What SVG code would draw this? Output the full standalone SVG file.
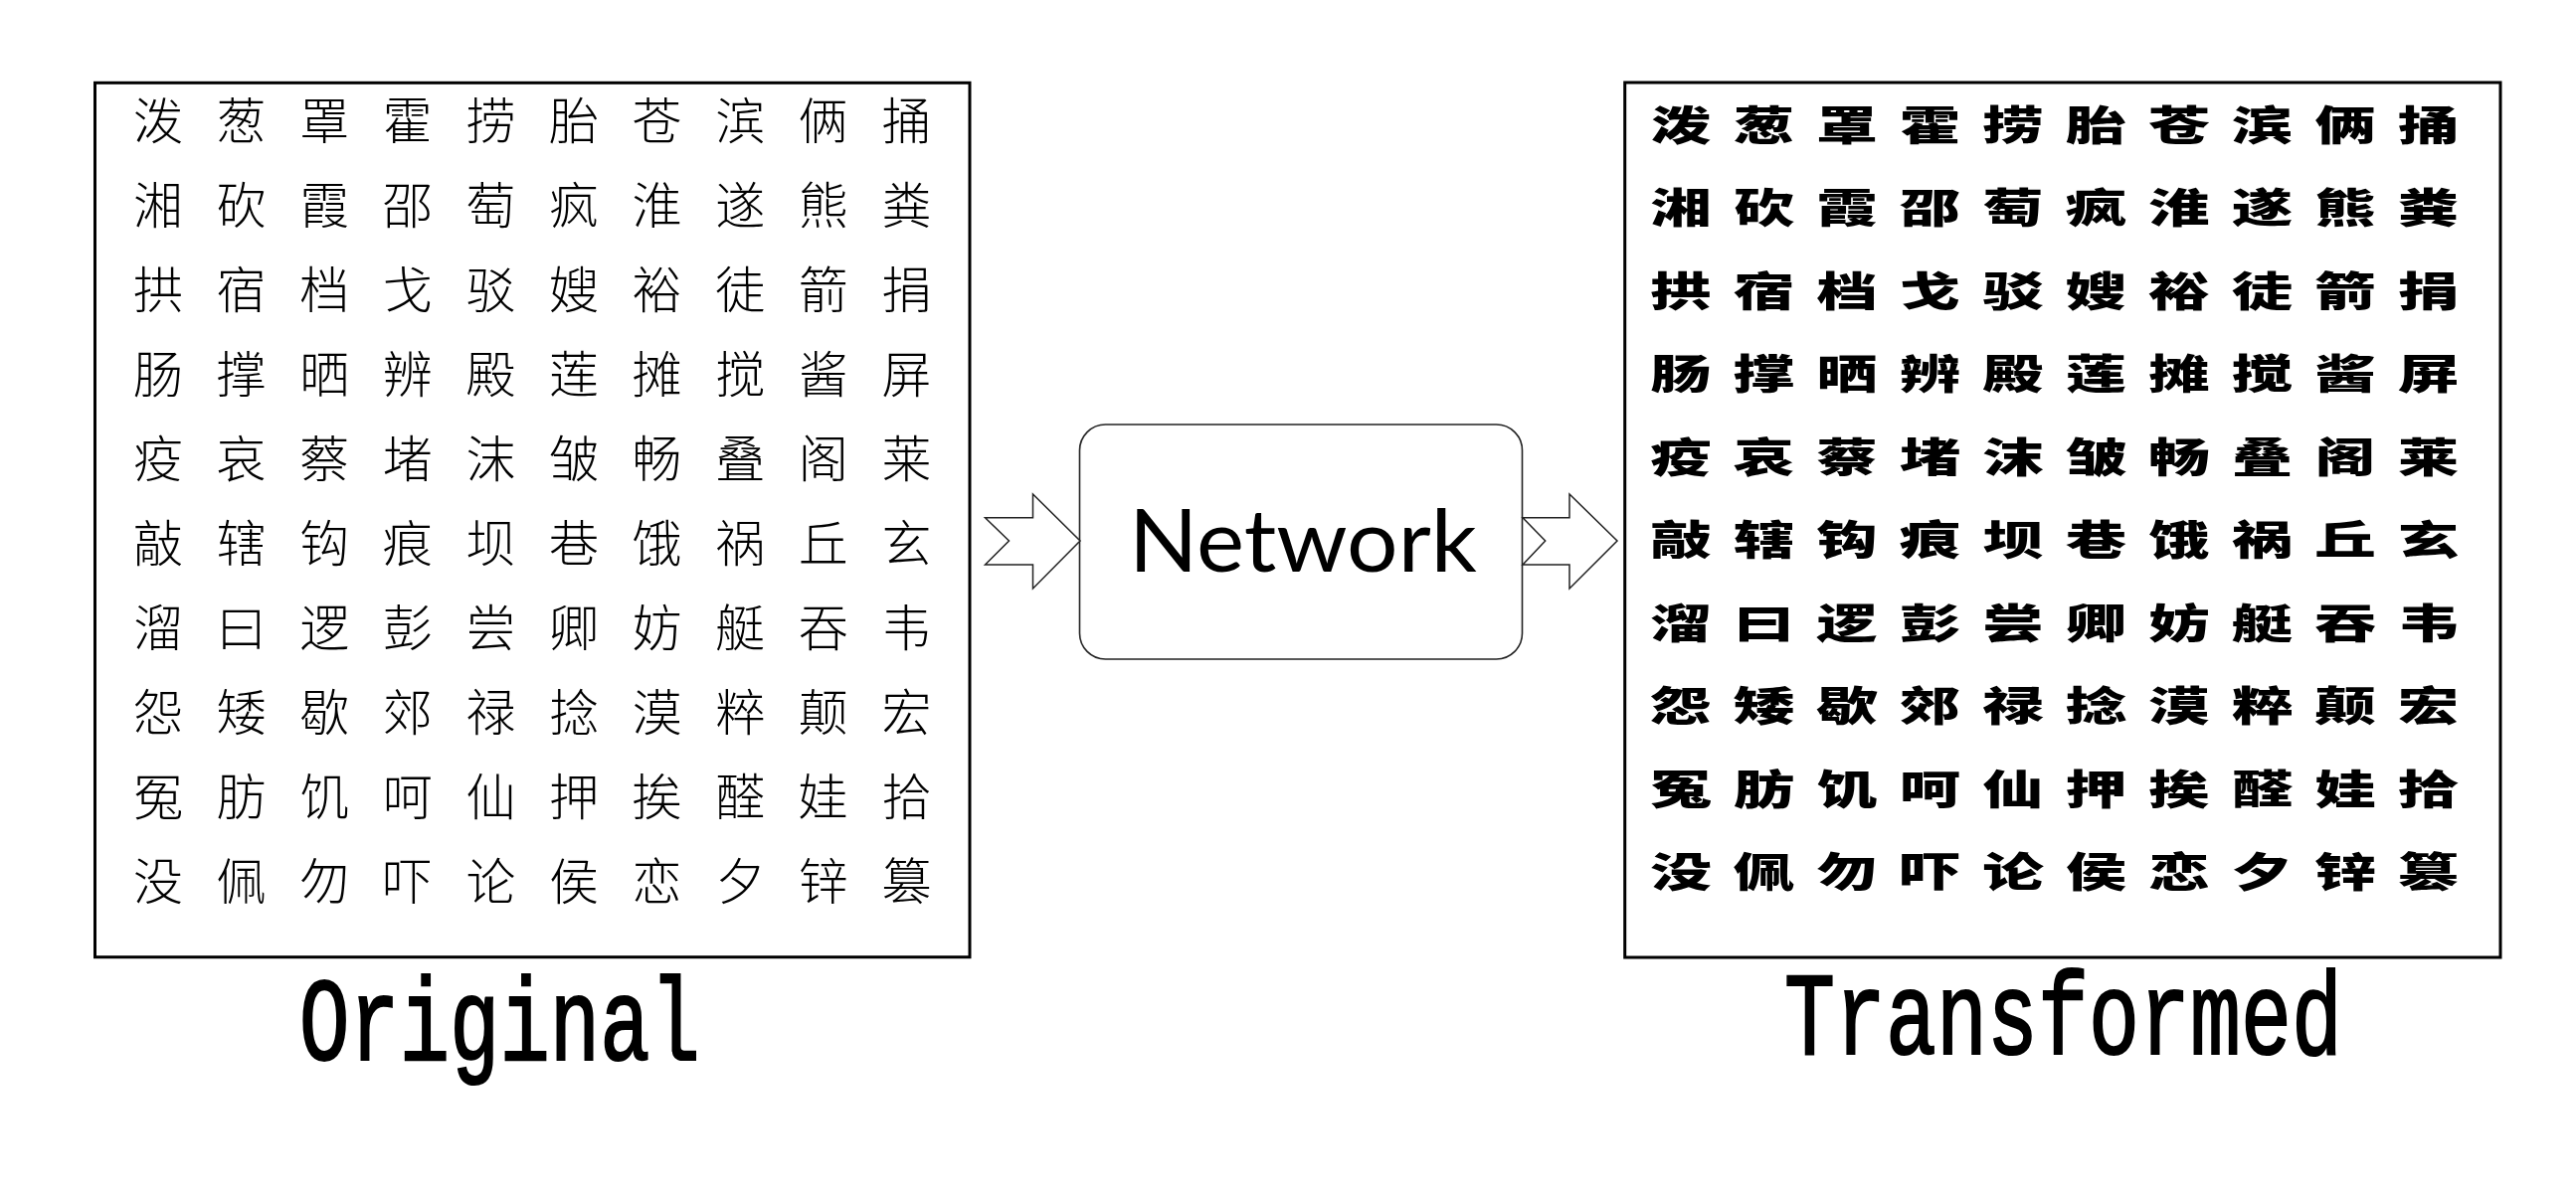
<svg xmlns="http://www.w3.org/2000/svg" width="2590" height="1204" viewBox="0 0 2590 1204">
<style>
.frame{fill:#fff;stroke:#000;stroke-width:3}
.orig{font-family:"Noto Sans CJK SC",sans-serif;font-size:50px;font-weight:300;fill:#000;text-anchor:middle}
.trans{font-family:"Noto Sans CJK SC",sans-serif;font-size:41px;font-weight:900;fill:#000;text-anchor:middle}
.label{font-family:"Liberation Mono",monospace;font-weight:normal;font-size:118px;fill:#000;stroke:#000;stroke-width:2.2}
.net{fill:#fff;stroke:#222;stroke-width:1.6}
.nettext{font-family:Lato,"Open Sans",sans-serif;font-size:87px;fill:#000;text-anchor:middle}
.chev{fill:#fff;stroke:#222;stroke-width:1.5;stroke-linejoin:miter}
</style>
<rect width="2590" height="1204" fill="#fff"/>
<g id="original">
<rect class="frame" x="95.5" y="83.3" width="879.5" height="879.4"/>
<g class="orig">
<text x="159 242.6 326.2 409.8 493.4 577 660.6 744.2 827.8 911.4" y="139.5">泼葱罩霍捞胎苍滨俩捅</text>
<text x="159 242.6 326.2 409.8 493.4 577 660.6 744.2 827.8 911.4" y="224.6">湘砍霞邵萄疯淮遂熊粪</text>
<text x="159 242.6 326.2 409.8 493.4 577 660.6 744.2 827.8 911.4" y="309.7">拱宿档戈驳嫂裕徒箭捐</text>
<text x="159 242.6 326.2 409.8 493.4 577 660.6 744.2 827.8 911.4" y="394.8">肠撑晒辨殿莲摊搅酱屏</text>
<text x="159 242.6 326.2 409.8 493.4 577 660.6 744.2 827.8 911.4" y="479.9">疫哀蔡堵沫皱畅叠阁莱</text>
<text x="159 242.6 326.2 409.8 493.4 577 660.6 744.2 827.8 911.4" y="565">敲辖钩痕坝巷饿祸丘玄</text>
<text x="159 242.6 326.2 409.8 493.4 577 660.6 744.2 827.8 911.4" y="650.1">溜曰逻彭尝卿妨艇吞韦</text>
<text x="159 242.6 326.2 409.8 493.4 577 660.6 744.2 827.8 911.4" y="735.2">怨矮歇郊禄捻漠粹颠宏</text>
<text x="159 242.6 326.2 409.8 493.4 577 660.6 744.2 827.8 911.4" y="820.3">冤肪饥呵仙押挨醛娃拾</text>
<text x="159 242.6 326.2 409.8 493.4 577 660.6 744.2 827.8 911.4" y="905.4">没佩勿吓论侯恋夕锌篡</text>
</g>
<text class="label" x="301" y="1066" textLength="403" lengthAdjust="spacingAndGlyphs">Original</text>
</g>
<g id="network">
<rect class="net" x="1085.5" y="427" width="445" height="236" rx="26" ry="26"/>
<text class="nettext" x="1310" y="575" textLength="350" lengthAdjust="spacingAndGlyphs">Network</text>
</g>
<g id="transformed">
<rect class="frame" x="1633.7" y="83" width="880.3" height="880"/>
<g class="trans" transform="scale(1.5,1)">
<text x="1126.67 1182.33 1238 1293.67 1349.33 1405 1460.67 1516.33 1572 1627.67" y="140.6">泼葱罩霍捞胎苍滨俩捅</text>
<text x="1126.67 1182.33 1238 1293.67 1349.33 1405 1460.67 1516.33 1572 1627.67" y="224.1">湘砍霞邵萄疯淮遂熊粪</text>
<text x="1126.67 1182.33 1238 1293.67 1349.33 1405 1460.67 1516.33 1572 1627.67" y="307.6">拱宿档戈驳嫂裕徒箭捐</text>
<text x="1126.67 1182.33 1238 1293.67 1349.33 1405 1460.67 1516.33 1572 1627.67" y="391.1">肠撑晒辨殿莲摊搅酱屏</text>
<text x="1126.67 1182.33 1238 1293.67 1349.33 1405 1460.67 1516.33 1572 1627.67" y="474.6">疫哀蔡堵沫皱畅叠阁莱</text>
<text x="1126.67 1182.33 1238 1293.67 1349.33 1405 1460.67 1516.33 1572 1627.67" y="558.1">敲辖钩痕坝巷饿祸丘玄</text>
<text x="1126.67 1182.33 1238 1293.67 1349.33 1405 1460.67 1516.33 1572 1627.67" y="641.6">溜曰逻彭尝卿妨艇吞韦</text>
<text x="1126.67 1182.33 1238 1293.67 1349.33 1405 1460.67 1516.33 1572 1627.67" y="725.1">怨矮歇郊禄捻漠粹颠宏</text>
<text x="1126.67 1182.33 1238 1293.67 1349.33 1405 1460.67 1516.33 1572 1627.67" y="808.6">冤肪饥呵仙押挨醛娃拾</text>
<text x="1126.67 1182.33 1238 1293.67 1349.33 1405 1460.67 1516.33 1572 1627.67" y="892.1">没佩勿吓论侯恋夕锌篡</text>
</g>
<text class="label" x="1794" y="1060" textLength="561" lengthAdjust="spacingAndGlyphs">Transformed</text>
</g>
<g id="connectors">
<polygon class="chev" points="990.5,520.7 1038.5,520.7 1038.5,497 1086,544 1038.5,592 1038.5,568 990.5,568 1014.5,544"/>
<polygon class="chev" points="1531,520.7 1578,520.7 1578,497 1626,544 1578,592 1578,568 1531,568 1553.7,544"/>
</g>
</svg>
